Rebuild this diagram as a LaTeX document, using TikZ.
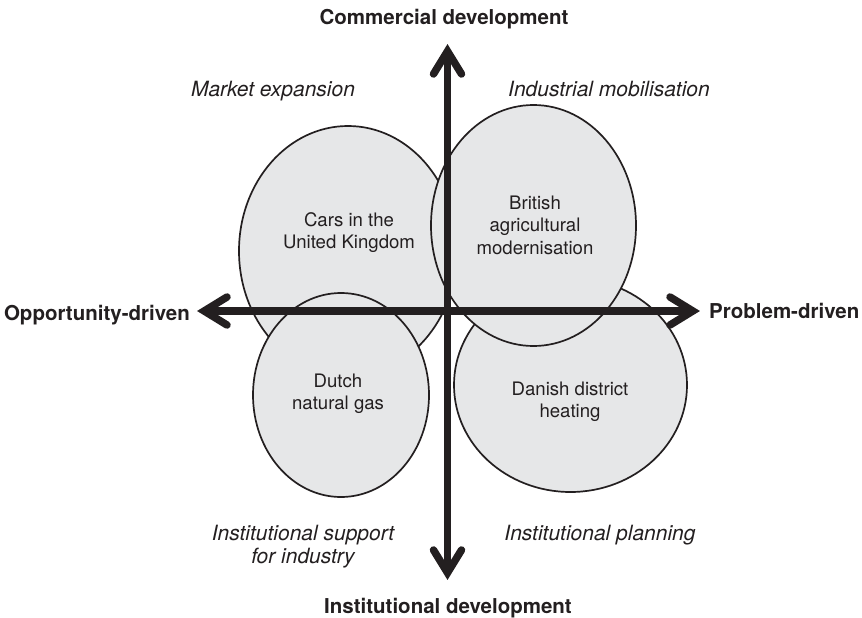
\documentclass[tikz,border=0pt]{standalone}
\usepackage{fontspec}
\setmainfont{TeX Gyre Heros}
\usetikzlibrary{calc,shapes.geometric}
\definecolor{blobfill}{HTML}{E6E7E8}
\definecolor{ink}{HTML}{231F20}
\newcommand\lblstack[1]{\begin{tabular}[t]{@{}c@{}}#1\end{tabular}}
\begin{document}
\begin{tikzpicture}[x=1pt,y=-1pt,
  blob/.style={ellipse, draw=ink, fill=blobfill, line width=1.7pt, inner sep=0pt},
  shaft/.style={draw=ink, line width=7.5pt, line cap=butt},
  chevron/.style={draw=ink, line width=7.5pt, line cap=round, line join=miter},
  body/.style={font=\fontsize{18.6}{22.5}\selectfont, text=ink, inner sep=0pt, anchor=base},
  quad/.style={font=\fontsize{21}{23.5}\selectfont\itshape, text=ink, inner sep=0pt, anchor=base},
  axlabel/.style={font=\fontsize{20.5}{24}\selectfont\bfseries, text=ink, inner sep=0pt},
]
\useasboundingbox (0,0) rectangle (862,618);

% ellipses
\node[blob, minimum width=218pt, minimum height=250pt] (cars) at (348,251) {};
\node[blob, minimum width=233pt, minimum height=214pt] (danish) at (570.5,385) {};
\node[blob, minimum width=176pt, minimum height=204pt] (dutch) at (341,395) {};
\node[blob, minimum width=205pt, minimum height=241pt] (british) at (533.5,225.5) {};

% ellipse texts
\node[body] (carsT) at (349,226) {\lblstack{Cars in the\\United Kingdom}};
\node[body] (britT) at (535,209.3) {\lblstack{British\\agricultural\\modernisation}};
\node[body] (dutchT) at (338,387.3) {\lblstack{Dutch\\natural gas}};
\node[body] (danT) at (570,395) {\lblstack{Danish district\\heating}};

% axes
\coordinate (tipT) at (447.5,44);
\coordinate (tipB) at (447.5,580);
\coordinate (tipL) at (197,311);
\coordinate (tipR) at (700,311);
\draw[shaft, shorten <=7pt, shorten >=7pt] (tipL) -- (tipR);
\draw[shaft, shorten <=7pt, shorten >=7pt] (tipT) -- (tipB);
\draw[chevron] ($(tipR)+(-30,-14)$) -- ($(tipR)+(-7.2,0)$) -- ($(tipR)+(-30,14)$);
\draw[chevron] ($(tipL)+(30,-14)$) -- ($(tipL)+(7.2,0)$) -- ($(tipL)+(30,14)$);
\draw[chevron] ($(tipT)+(-14,30)$) -- ($(tipT)+(0,7.2)$) -- ($(tipT)+(14,30)$);
\draw[chevron] ($(tipB)+(-14,-30)$) -- ($(tipB)+(0,-7.2)$) -- ($(tipB)+(14,-30)$);

% axis labels
\node[axlabel, anchor=base] (comm) at (444,25) {Commercial development};
\node[axlabel, anchor=base] (instdev) at (448,613.5) {Institutional development};
\node[axlabel, anchor=base east] (opp) at (190,320) {Opportunity-driven};
\node[axlabel, anchor=base west] (prob) at (709,318.5) {Problem-driven};

% quadrant labels
\node[quad] (market) at (273,96.7) {Market expansion};
\node[quad] (indmob) at (609,96.7) {Industrial mobilisation};
\node[quad] (instsup) at (303,540) {\lblstack{Institutional support\\for industry}};
\node[quad] (instplan) at (600,540) {Institutional planning};
\end{tikzpicture}
\end{document}
